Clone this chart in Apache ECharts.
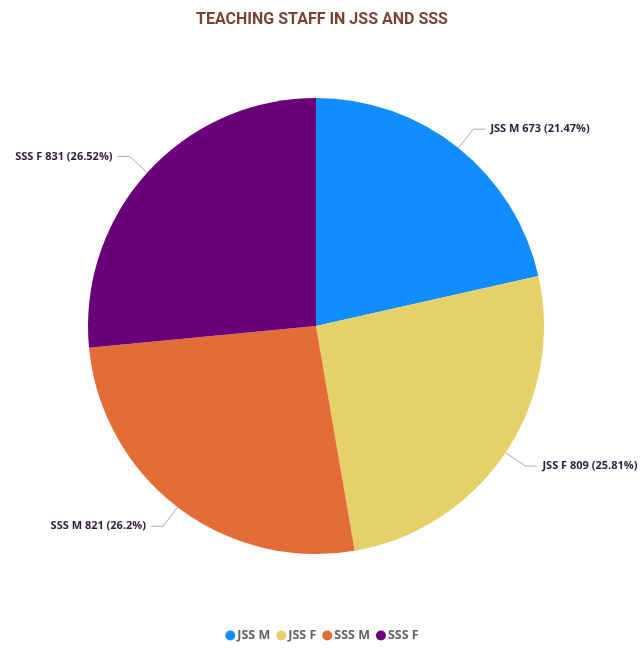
<!DOCTYPE html>
<html><head><meta charset="utf-8">
<script src="https://cdn.jsdelivr.net/npm/echarts@6/dist/echarts.min.js"></script>
<style>html,body{margin:0;padding:0;background:#fff}#c{width:644px;height:649px}</style>
</head><body><div id="c"></div>
<script>
const categories = ['JSS M', 'JSS F', 'SSS M', 'SSS F'];
const values = [673, 809, 821, 831];
const percentLabels = ['21.47%', '25.81%', '26.2%', '26.52%'];
const colors = ['#118DFF', '#E5D168', '#E46C37', '#6B007B'];

const chart = echarts.init(document.getElementById('c'));
chart.setOption({
  animation: false,
  title: {
    text: 'TEACHING STAFF IN JSS AND SSS',
    left: 'center', top: 7,
    textStyle: { fontFamily: 'Roboto', fontWeight: 'bold', fontSize: 16, color: '#7A4434' }
  },
  legend: {
    bottom: 2, left: 'center',
    icon: 'circle', itemWidth: 10, itemHeight: 10, itemGap: 6,
    textStyle: { fontFamily: 'Open Sans', fontWeight: 'bold', fontSize: 12.5, color: '#66615E', padding: [0, 0, 0, -3] },
    data: categories
  },
  series: [{
    type: 'pie',
    center: [316, 326],
    radius: 228,
    startAngle: 90,
    clockwise: true,
    color: colors,
    data: categories.map((c, i) => ({ name: c, value: values[i] })),
    label: {
      show: true,
      overflow: 'none',
      edgeDistance: 2,
      formatter: p => p.name + ' ' + p.value + ' (' + percentLabels[p.dataIndex] + ')',
      fontFamily: 'Open Sans', fontWeight: 'bold', fontSize: 11, color: '#2B1E38'
    },
    labelLine: { length: 24, length2: 12, lineStyle: { color: '#AAAAAA', width: 1 } },
    itemStyle: { borderWidth: 0 },
    emphasis: { disabled: true }
  }]
});
</script></body></html>
